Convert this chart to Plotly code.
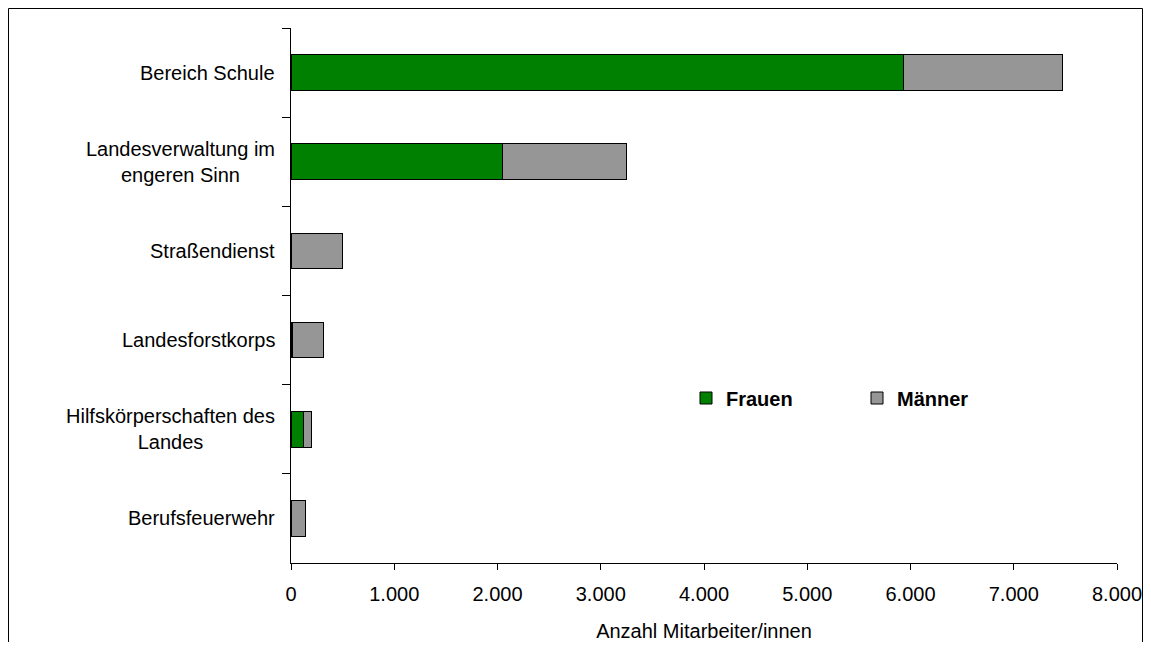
import plotly.graph_objects as go

categories = ["Bereich Schule", "Landesverwaltung im<br>engeren Sinn", "Straßendienst",
              "Landesforstkorps", "Hilfskörperschaften des<br>Landes", "Berufsfeuerwehr"]
frauen = [5934, 2052, 5, 15, 123, 0]
maenner = [1539, 1200, 495, 298, 71, 138]
x_ticks = [0, 1000, 2000, 3000, 4000, 5000, 6000, 7000, 8000]
x_tick_labels = ["0", "1.000", "2.000", "3.000", "4.000", "5.000", "6.000", "7.000", "8.000"]

FONT = "Liberation Sans, Arial, sans-serif"
W, H = 1135, 634
L, T, PW, PH = 283, 20, 826, 535
R = W - L - PW
B = H - T - PH

fig = go.Figure()
fig.add_trace(go.Bar(y=categories, x=frauen, name="<b>Frauen</b>", orientation="h",
                     marker=dict(color="#008000", line=dict(color="black", width=1))))
fig.add_trace(go.Bar(y=categories, x=maenner, name="<b>Männer</b>", orientation="h",
                     marker=dict(color="#969696", line=dict(color="black", width=1))))

fig.update_layout(
    barmode="stack", bargap=0.6,
    width=W, height=H,
    margin=dict(l=L, r=R, t=T, b=B, autoexpand=False),
    paper_bgcolor="white", plot_bgcolor="white",
    font=dict(family=FONT, size=20, color="black"),
    legend=dict(orientation="h", x=(686 - 291) / PW, y=(563 - 398) / PH,
                xanchor="left", yanchor="middle",
                font=dict(size=20, family=FONT),
                traceorder="normal", entrywidth=126),
    showlegend=True,
)
fig.update_xaxes(range=[0, 8000], tickvals=x_ticks, ticktext=x_tick_labels,
                 automargin=False,
                 showgrid=False, zeroline=False, showline=True, linecolor="black", linewidth=1,
                 ticks="outside", ticklen=6, tickcolor="black", ticklabelstandoff=7,
                 title=dict(text="Anzahl Mitarbeiter/innen", font=dict(size=20), standoff=20),
                 tickfont=dict(size=20))
fig.update_yaxes(autorange="reversed", automargin=False, showgrid=False, showline=True,
                 linecolor="black", linewidth=1, ticks="outside", ticklen=8, tickcolor="black",
                 tickson="boundaries", showticklabels=False)

for cat in categories:
    fig.add_annotation(x=-14 / PW, xref="paper", y=cat, yref="y", text=cat,
                       showarrow=False, xanchor="right", yanchor="middle", align="center",
                       font=dict(size=20, family=FONT, color="black"))

fig.add_shape(type="rect", xref="paper", yref="paper",
              x0=(0.5 - L) / PW, x1=(W - 0.5 - L) / PW,
              y0=(T + PH - (H + 20)) / PH, y1=(T + PH - 0.5) / PH,
              line=dict(color="black", width=1), fillcolor="rgba(0,0,0,0)", layer="below")

fig.write_html("out.html")
